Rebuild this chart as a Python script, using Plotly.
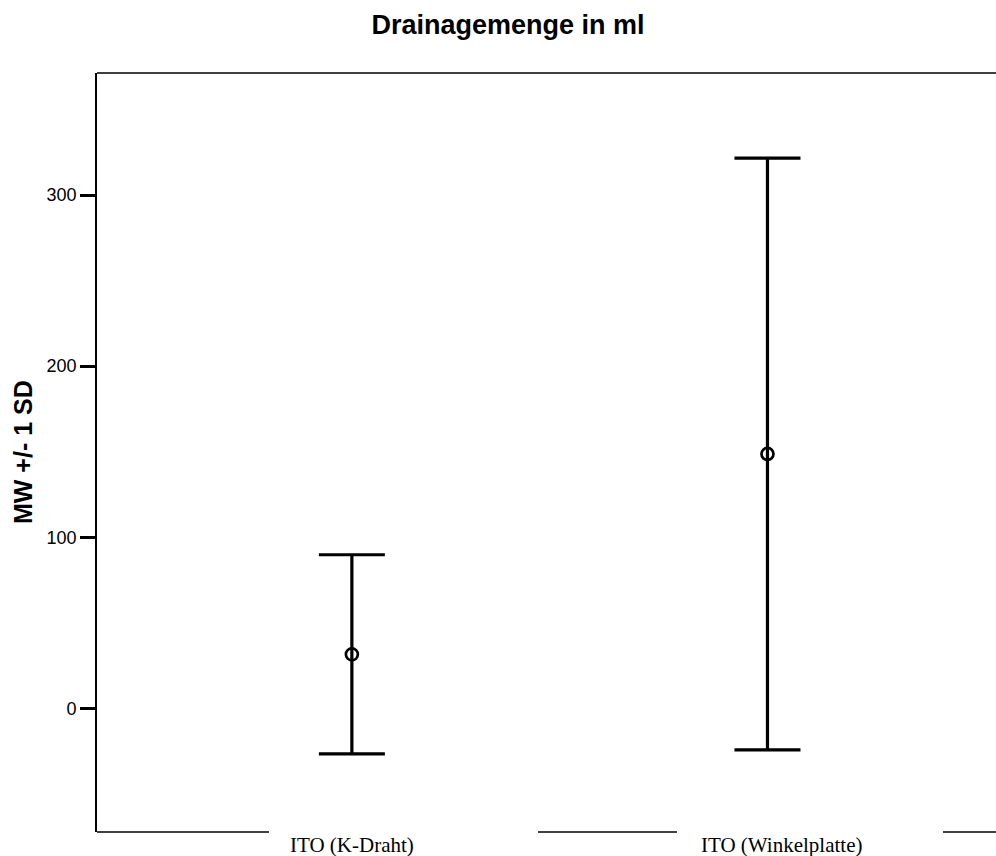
import plotly.graph_objects as go

categories = ["ITO (K-Draht)", "ITO (Winkelplatte)"]
means = [31.6, 148.7]
sds = [58.2, 172.9]
y_tickvals = [0, 100, 200, 300]
y_ticktext = ["0", "100", "200", "300"]

W, H = 996, 856
L, R, T, B = 97, 0, 73, 24
pw = W - L - R
ph = H - T - B

xpos = list(range(len(categories)))

fig = go.Figure()
fig.add_trace(go.Scatter(
    x=xpos, y=means, mode="markers",
    marker=dict(symbol="circle-open", size=12, color="black", line=dict(width=2.7, color="black")),
    error_y=dict(type="data", array=sds, visible=True, color="black", thickness=3.2, width=33),
    showlegend=False, hoverinfo="skip",
))

def px2paper_x(px):
    return (px - L) / pw

# frame: top line and broken bottom line
shapes = [
    dict(type="line", xref="paper", yref="paper", x0=0, x1=1, y0=1, y1=1,
         line=dict(color="black", width=1.6)),
]
for a, b in [(97, 269), (538, 677), (943, 996)]:
    shapes.append(dict(type="line", xref="paper", yref="paper",
                       x0=px2paper_x(a), x1=px2paper_x(b), y0=0, y1=0,
                       line=dict(color="black", width=1.6)))

annotations = []
label_shift = [0, 14]
for i, c in enumerate(categories):
    annotations.append(dict(
        x=xpos[i], xref="x", y=0, yref="paper", yanchor="middle", yshift=-13,
        xshift=label_shift[i], text=c, showarrow=False,
        font=dict(family="Liberation Serif", size=21, color="black")))
annotations.append(dict(
    x=0, xref="paper", y=0.5, yref="paper", xshift=22.5 - L, xanchor="center", yanchor="middle",
    text="<b>MW +/- 1 SD</b>", textangle=-90, showarrow=False,
    font=dict(family="Liberation Sans", size=25, color="black")))

fig.update_layout(
    width=W, height=H,
    margin=dict(l=L, r=R, t=T, b=B, pad=0),
    paper_bgcolor="white", plot_bgcolor="white",
    title=dict(text="<b>Drainagemenge in ml</b>", x=508 / W, xanchor="center", xref="container",
               y=1 - 25 / H, yanchor="middle", yref="container",
               font=dict(family="Liberation Sans", size=27, color="black")),
    xaxis=dict(range=[-0.6133, 1.5499], showgrid=False, zeroline=False, showline=False,
               showticklabels=False, ticks=""),
    yaxis=dict(range=[-72.2, 371.3], tickvals=y_tickvals, ticktext=y_ticktext,
               showgrid=False, zeroline=False, showline=True, linecolor="black", linewidth=1.6,
               ticks="outside", ticklen=15, tickwidth=2.6, tickcolor="black",
               tickfont=dict(family="Liberation Sans", size=18, color="black")),
    shapes=shapes, annotations=annotations,
)

fig.write_html("out.html")
